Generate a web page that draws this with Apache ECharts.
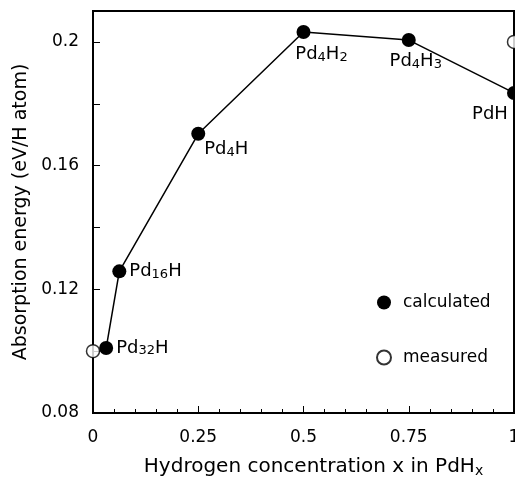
<!DOCTYPE html>
<html>
<head>
<meta charset="utf-8">
<script src="https://cdn.jsdelivr.net/npm/echarts@6/dist/echarts.min.js"></script>
<style>
html,body{margin:0;padding:0;background:#fff;}
#chart{width:515px;height:480px;}
</style>
</head>
<body>
<div id="chart"></div>
<script>
// Data
const calcX = [0.03125, 0.0625, 0.25, 0.5, 0.75, 1.0];
const calcY = [0.101, 0.1258, 0.1703, 0.2032, 0.2006, 0.1835];
const calcNames = ['Pd{s|32}H', 'Pd{s|16}H', 'Pd{s|4}H', 'Pd{s|4}H{s|2}', 'Pd{s|4}H{s|3}', 'PdH'];
const measX = [0.0, 1.0];
const measY = [0.1, 0.2];
const xTicks = ['0', '0.25', '0.5', '0.75', '1'];
const yTicks = ['0.08', '0.12', '0.16', '0.2'];

// label placement (style only)
const labelStyles = [
  {position: 'right', offset: [-2, 0]},
  {position: 'right', offset: [-2, 0]},
  {position: 'bottom', offset: [28, -6]},
  {position: 'bottom', offset: [18, 1]},
  {position: 'bottom', offset: [7, 0]},
  {position: 'bottom', offset: [-24, 0]}
];

const FONT = 'DejaVu Sans';
const rich = {
  s: {fontSize: 13, fontFamily: FONT, color: '#000', verticalAlign: 'bottom', padding: [6, 0, 0, 0]}
};

const chart = echarts.init(document.getElementById('chart'), null, {renderer: 'canvas'});
const option = {
  backgroundColor: '#fff',
  animation: false,
  grid: {left: 93, right: 1, top: 11, bottom: 67, show: true, borderColor: '#000', borderWidth: 2, containLabel: false, outerBoundsMode: 'none'},
  legend: {
    orient: 'vertical', left: 371, top: 289, itemGap: 38,
    itemWidth: 28, itemHeight: 14,
    textStyle: {fontFamily: FONT, fontSize: 17, color: '#000'},
    data: [
      {name: 'calculated', icon: 'circle'},
      {name: 'measured', icon: 'circle'}
    ]
  },
  xAxis: {
    type: 'value', min: 0, max: 1, interval: 0.25,
    name: 'Hydrogen concentration x in PdH{s|x}',
    nameLocation: 'middle', nameGap: 43,
    nameTextStyle: {fontFamily: FONT, fontSize: 20, color: '#000', padding: [0, 0, 0, 20],
      rich: {s: {fontSize: 14, fontFamily: FONT, color: '#000', verticalAlign: 'bottom', padding: [8, 0, 0, 0]}}},
    axisLine: {show: true, lineStyle: {color: '#000', width: 2}},
    axisTick: {show: true, inside: true, length: 7, lineStyle: {color: '#000', width: 1}},
    minorTick: {show: true, splitNumber: 5, length: 4, lineStyle: {color: '#000', width: 1}},
    splitLine: {show: false},
    axisLabel: {
      fontFamily: FONT, fontSize: 17, color: '#000', margin: 16,
      formatter: function (v) { const i = Math.round(v / 0.25); return (Math.abs(v - i * 0.25) < 1e-6 && xTicks[i] !== undefined) ? xTicks[i] : ''; }
    }
  },
  yAxis: {
    type: 'value', min: 0.08, max: 0.21, interval: 0.04,
    name: 'Absorption energy (eV/H atom)',
    nameLocation: 'middle', nameGap: 60,
    nameTextStyle: {fontFamily: FONT, fontSize: 19, color: '#000'},
    axisLine: {show: true, lineStyle: {color: '#000', width: 2}},
    axisTick: {show: true, inside: true, length: 7, lineStyle: {color: '#000', width: 1}},
    minorTick: {show: true, splitNumber: 2, length: 7, lineStyle: {color: '#000', width: 1}},
    splitLine: {show: false},
    axisLabel: {
      fontFamily: FONT, fontSize: 17, color: '#000', margin: 14,
      formatter: function (v) { const i = Math.round((v - 0.08) / 0.04); return (Math.abs(v - (0.08 + i * 0.04)) < 1e-6 && yTicks[i] !== undefined) ? yTicks[i] : ''; }
    }
  },
  series: [
    {
      name: 'calculated', type: 'line', clip: false,
      symbol: 'circle', symbolSize: 14,
      itemStyle: {color: '#000'},
      lineStyle: {color: '#000', width: 1.5},
      data: calcX.map((x, i) => ({
        value: [x, calcY[i]],
        label: {
          show: true, formatter: calcNames[i],
          position: labelStyles[i].position, offset: labelStyles[i].offset,
          fontFamily: FONT, fontSize: 18, color: '#000', rich: rich
        }
      }))
    },
    {
      name: 'measured', type: 'scatter', clip: false,
      symbol: 'circle', symbolSize: 13,
      itemStyle: {color: '#fff', borderColor: '#000', borderWidth: 1.5},
      data: measX.map((x, i) => [x, measY[i]])
    }
  ]
};
chart.setOption(option);
</script>
</body>
</html>
